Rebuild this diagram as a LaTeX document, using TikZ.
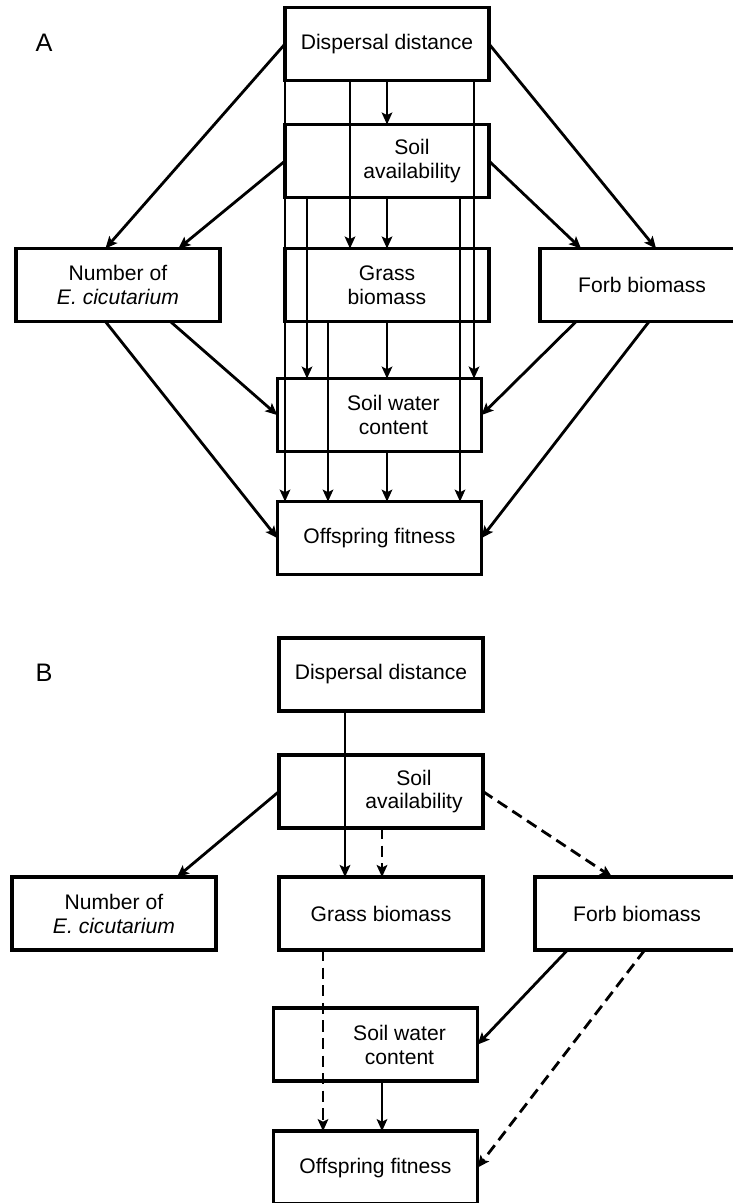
\documentclass[tikz,border=0pt]{standalone}
\usepackage{fontspec}
\setmainfont{Liberation Sans}
\usetikzlibrary{arrows.meta,positioning}

\begin{document}
\begin{tikzpicture}[x=0.025cm, y=-0.025cm,
    >={Stealth[length=8.5pt,width=7.5pt,inset=1.8pt]},
    box/.style={rectangle, draw, line width=2.4pt, outer sep=0pt, minimum height=1.825cm, minimum width=5.1cm, align=center, font=\fontsize{15}{17}\selectfont},
    txt/.style={align=center, font=\fontsize{15}{17}\selectfont},
    arr/.style={->, line width=2pt},
    darr/.style={arr, dash pattern=on 8pt off 4.5pt},
    panel/.style={font=\fontsize{18}{20}\selectfont}]
    \useasboundingbox (0,0) rectangle (732,1203);

    \node(capA) [panel] at (44,43) {A};
    \node(dispA) [box] at (387,44) {Dispersal distance};
    \node(soilA) [box, below=1.1cm of dispA, label={[txt, xshift=0.625cm]center:Soil\\availability}] {};
    \node(grassA) [box, below=1.275cm of soilA] {Grass\\biomass};
    \node(numA) [box, left=1.625cm of grassA] {Number of\\\textit{E. cicutarium}};
    \node(forbA) [box, right=1.275cm of grassA] {Forb biomass};
    \node(swcA) [box, below=1.425cm of grassA, xshift=-0.19cm, label={[txt, xshift=0.35cm]center:Soil water\\content}] {};
    \node(offA) [box, below=1.25cm of swcA] {Offspring fitness};

    \coordinate (c1) at (285,0);
    \coordinate (c2) at (307,0);
    \coordinate (c3) at (328,0);
    \coordinate (c4) at (350,0);
    \coordinate (c5) at (387,0);
    \coordinate (c6) at (460,0);
    \coordinate (c7) at (474,0);
    \foreach \from/\to/\col in {dispA/offA/c1, soilA/swcA/c2, grassA/offA/c3, dispA/grassA/c4,
        dispA/soilA/c5, soilA/grassA/c5, grassA/swcA/c5, swcA/offA/c5, soilA/offA/c6, dispA/swcA/c7}
      \draw[arr] (\from.south -| \col) -- (\to.north -| \col);

    \draw[arr] (dispA.west) -- ([xshift=-0.3125cm]numA.north);
    \draw[arr] (soilA.west) -- ([xshift=1.5125cm]numA.north);
    \draw[arr] (dispA.east) -- ([xshift=0.35cm]forbA.north);
    \draw[arr] (soilA.east) -- ([xshift=-1.525cm]forbA.north);
    \draw[arr] ([xshift=-0.3125cm]numA.south) -- (offA.west);
    \draw[arr] ([xshift=1.3125cm]numA.south) -- (swcA.west);
    \draw[arr] ([xshift=-1.65cm]forbA.south) -- (swcA.east);
    \draw[arr] ([xshift=0.175cm]forbA.south) -- (offA.east);

    \node(capB) [panel] at (44,673) {B};
    \node(dispB) [box] at (381,674.5) {Dispersal distance};
    \node(soilB) [box, below=1.1cm of dispB, label={[txt, xshift=0.825cm]center:Soil\\availability}] {};
    \node(grassB) [box, below=1.225cm of soilB] {Grass biomass};
    \node(numB) [box, left=1.575cm of grassB] {Number of\\\textit{E. cicutarium}};
    \node(forbB) [box, right=1.3cm of grassB] {Forb biomass};
    \node(swcB) [box, below=1.45cm of grassB, xshift=-0.1375cm, label={[txt, xshift=0.6cm]center:Soil water\\content}] {};
    \node(offB) [box, below=1.25cm of swcB] {Offspring fitness};

    \coordinate (b1) at (345,0);
    \coordinate (b2) at (382,0);
    \coordinate (b3) at (323,0);
    \draw[arr] (dispB.south -| b1) -- (grassB.north -| b1);
    \draw[darr] (soilB.south -| b2) -- (grassB.north -| b2);
    \draw[darr] (grassB.south -| b3) -- (offB.north -| b3);
    \draw[arr] (swcB.south -| b2) -- (offB.north -| b2);
    \draw[arr] (soilB.west) -- ([xshift=1.575cm]numB.north);
    \draw[darr] (soilB.east) -- ([xshift=-0.625cm]forbB.north);
    \draw[arr] ([xshift=-1.74cm]forbB.south) -- (swcB.east);
    \draw[darr] ([xshift=0.19cm]forbB.south) -- (offB.east);
\end{tikzpicture}
\end{document}
